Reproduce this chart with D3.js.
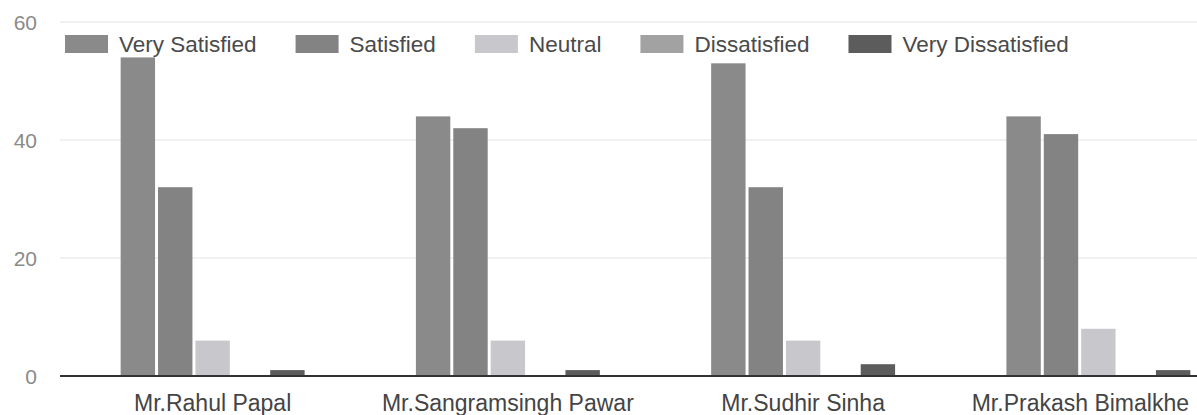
<!DOCTYPE html>
<html>
<head>
<meta charset="utf-8">
<script src="https://cdn.jsdelivr.net/npm/d3@7"></script>
<style>
  html, body { margin: 0; padding: 0; background: #fff; }
  svg { display: block; font-family: "Liberation Sans", Arial, sans-serif; }
</style>
</head>
<body>
<svg id="chart" width="1197" height="415"></svg>
<script>
// ---- data ----
const categories = ["Mr.Rahul Papal", "Mr.Sangramsingh Pawar", "Mr.Sudhir Sinha", "Mr.Prakash Bimalkhe"];
const seriesNames = ["Very Satisfied", "Satisfied", "Neutral", "Dissatisfied", "Very Dissatisfied"];
const verySatisfied = [54, 44, 53, 44];
const satisfied = [32, 42, 32, 41];
const neutral = [6, 6, 6, 8];
const dissatisfied = [0, 0, 0, 0];
const veryDissatisfied = [1, 1, 2, 1];
const yTicks = [0, 20, 40, 60];

const seriesValues = [verySatisfied, satisfied, neutral, dissatisfied, veryDissatisfied];
const colors = ["#8a8a8a", "#838383", "#c8c8cc", "#a2a2a2", "#5c5c5c"];

const svg = d3.select("#chart");
const W = 1197, H = 415;

const y = d3.scaleLinear().domain([0, 60]).range([376, 22]);
const x0 = d3.scaleBand().domain(categories).range([65, 1246]).paddingInner(0.377).paddingOuter(0.1885);
const x1 = d3.scaleBand().domain(seriesNames).range([0, x0.bandwidth()]).paddingInner(0.08).paddingOuter(0);
const color = d3.scaleOrdinal().domain(seriesNames).range(colors);

// gridlines
svg.append("g").selectAll("line")
  .data(yTicks.filter(d => d > 0))
  .join("line")
  .attr("x1", 60).attr("x2", W)
  .attr("y1", d => y(d)).attr("y2", d => y(d))
  .attr("stroke", "#ececec").attr("stroke-width", 1.5);

// y tick labels via axis
const yAxis = svg.append("g")
  .attr("transform", "translate(37,0)")
  .call(d3.axisLeft(y).tickValues(yTicks).tickSize(0).tickPadding(0));
yAxis.select(".domain").remove();
yAxis.selectAll("text")
  .attr("font-size", 21)
  .attr("font-family", "'Liberation Sans', Arial, sans-serif")
  .attr("fill", "#8a8a8a")
  .attr("dy", "0.35em");

// bars
const rows = categories.map((c, i) => ({ cat: c, vals: seriesNames.map((s, j) => ({ s, v: seriesValues[j][i] })) }));
const groups = svg.append("g").selectAll("g")
  .data(rows)
  .join("g")
  .attr("transform", d => `translate(${x0(d.cat)},0)`);
groups.selectAll("rect")
  .data(d => d.vals.filter(e => e.v > 0))
  .join("rect")
  .attr("x", e => x1(e.s))
  .attr("width", x1.bandwidth())
  .attr("y", e => y(e.v))
  .attr("height", e => y(0) - y(e.v))
  .attr("fill", e => color(e.s));

// baseline
svg.append("line")
  .attr("x1", 60).attr("x2", W)
  .attr("y1", y(0)).attr("y2", y(0))
  .attr("stroke", "#333").attr("stroke-width", 2);

// x labels (via axis, then clamp to the right edge)
const xAxis = svg.append("g")
  .attr("transform", `translate(0,${y(0)})`)
  .call(d3.axisBottom(x0).tickSize(0).tickPadding(0));
xAxis.select(".domain").remove();
xAxis.selectAll("text")
  .attr("font-size", 23)
  .attr("font-family", "'Liberation Sans', Arial, sans-serif")
  .attr("fill", "#444")
  .attr("dy", 0)
  .attr("y", 35)
  .each(function(d) {
    const w = this.getComputedTextLength();
    const cx = x0(d) + x0.bandwidth() / 2;
    const limit = 1189;
    if (cx + w / 2 > limit) {
      d3.select(this.parentNode).attr("transform", `translate(${limit - w / 2},0)`);
    }
  });

// legend
const legend = svg.append("g").attr("transform", "translate(65,35)");
let lx = 0;
seriesNames.forEach((s) => {
  const g = legend.append("g").attr("transform", `translate(${lx},0)`);
  g.append("rect").attr("width", 43).attr("height", 18).attr("fill", color(s));
  const t = g.append("text")
    .attr("x", 54).attr("y", 16.5)
    .attr("font-size", 22.5)
    .attr("fill", "#4a4a4a")
    .text(s);
  lx += 54 + t.node().getComputedTextLength() + 39;
});
</script>
</body>
</html>
